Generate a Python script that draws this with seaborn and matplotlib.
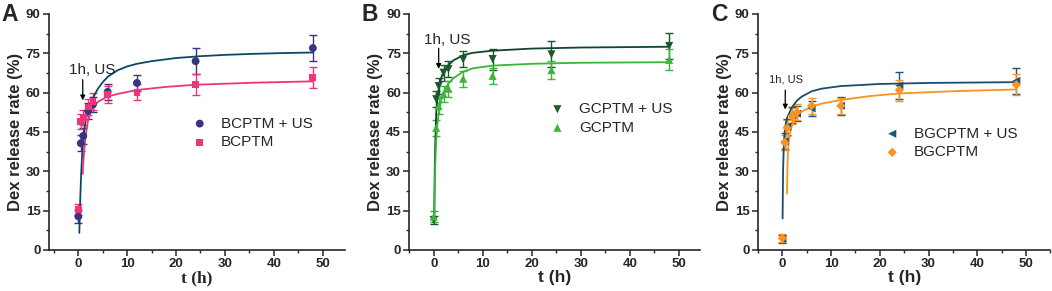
import matplotlib
matplotlib.use("Agg")
import matplotlib.pyplot as plt
import seaborn as sns
from matplotlib.ticker import MultipleLocator

# sampling times (h)
t = [0, 0.5, 1, 2, 3, 6, 12, 24, 48]

# panel A
bcptm_us = [12.8, 40.7, 43.5, 53.0, 55.5, 60.3, 63.7, 72.0, 77.0]
bcptm_us_err = [2.5, 3.0, 3.0, 3.0, 3.0, 3.0, 3.2, 5.0, 5.0]
bcptm = [15.5, 49.0, 50.5, 54.5, 56.5, 59.3, 60.2, 63.2, 65.8]
bcptm_err = [2.0, 3.0, 3.0, 3.0, 3.2, 3.2, 3.0, 4.0, 4.0]

fitA_us_t = [0.2, 0.4, 0.6, 0.8, 1.0, 1.3, 1.6, 2, 2.5, 3, 4, 5, 6, 8, 10, 12, 15, 20, 25, 30, 36, 42, 48]
fitA_us = [6.5, 20, 30, 37, 42, 47, 50.5, 53.5, 56, 58, 61.5, 64, 66, 68.5, 70, 71, 72, 73.2, 73.9, 74.4, 74.8, 75.1, 75.3]
fitA_t = [0.9, 1.0, 1.2, 1.6, 2, 2.5, 3, 4, 6, 8, 12, 18, 24, 36, 48]
fitA = [29, 33, 38, 45, 49.5, 52.5, 54.5, 56.5, 58.5, 59.5, 61, 62.2, 63, 63.8, 64.3]

# panel B
gcptm_us = [11.4, 57.5, 62.5, 67.6, 69.0, 72.7, 72.8, 74.6, 77.8]
gcptm_us_err = [1.5, 3.0, 3.0, 3.0, 3.0, 3.0, 4.0, 5.0, 5.0]
gcptm = [12.7, 46.6, 54.9, 59.5, 61.5, 65.3, 66.4, 68.6, 72.5]
gcptm_err = [2.0, 3.0, 3.0, 3.0, 3.0, 3.0, 3.0, 3.5, 4.0]

fitB_t = [0.1, 0.2, 0.3, 0.5, 0.75, 1, 1.5, 2, 3, 4, 6, 8, 12, 20, 30, 48]
fitB_us = [12, 30, 40, 52, 58, 61.5, 65.5, 68, 70.5, 72.3, 74.3, 75.2, 76, 76.8, 77.2, 77.5]
fitB = [12, 24, 32, 42, 48, 52, 57, 60, 63.5, 65.5, 68, 69.3, 70.3, 71, 71.4, 71.6]

# panel C
bgcptm_us = [4.2, 41.5, 47.0, 51.5, 52.0, 54.0, 55.0, 62.7, 64.5]
bgcptm_us_err = [1.5, 3.0, 3.0, 3.0, 3.0, 3.0, 3.5, 5.0, 5.0]
bgcptm = [4.5, 41.0, 46.5, 51.0, 52.5, 55.0, 55.0, 61.0, 63.0]
bgcptm_err = [1.5, 3.0, 3.0, 3.0, 3.0, 3.0, 3.0, 4.0, 4.0]

fitC_us_t = [0.05, 0.15, 0.3, 0.5, 0.75, 1, 1.5, 2, 3, 4, 6, 8, 12, 20, 30, 48]
fitC_us = [12, 30, 40, 45.5, 48.5, 50.5, 52.5, 54.5, 57, 58.5, 60.5, 61.5, 62.5, 63.3, 63.7, 64]
fitC_t = [0.95, 1.05, 1.2, 1.5, 2, 2.5, 3, 4, 6, 8, 12, 18, 24, 36, 48]
fitC = [21.5, 32, 39, 44, 47.5, 49.5, 51, 52.8, 54.7, 55.8, 57.2, 58.7, 59.7, 60.6, 61.2]

sns.set_style("ticks")
plt.rcParams['font.family'] = ['Liberation Sans', 'DejaVu Sans']

fig = plt.figure(figsize=(10.52, 2.91), dpi=100)


def panel(ax, series, fits, xlim, letter, ann, leg_anchor, serif_xlabel=False):
    for (y, err, color, marker, ms, label) in series:
        ax.errorbar(t, y, yerr=err, fmt='none', ecolor=color, elinewidth=1.0,
                    capsize=2.8, capthick=1.0, zorder=2)
    for (ft, fy, color) in fits:
        sns.lineplot(x=ft, y=fy, ax=ax, color=color, lw=1.3, zorder=3, sort=False)
    for (y, err, color, marker, ms, label) in series:
        sns.scatterplot(x=t, y=y, ax=ax, color=color, marker=marker, s=ms,
                        edgecolor='none', label=label, zorder=4)
    ax.set_xlim(*xlim)
    ax.set_ylim(0, 90)
    ax.xaxis.set_major_locator(MultipleLocator(10))
    ax.xaxis.set_minor_locator(MultipleLocator(5))
    ax.yaxis.set_major_locator(MultipleLocator(15))
    ax.yaxis.set_minor_locator(MultipleLocator(7.5))
    ax.tick_params(which='major', length=4, width=1.1, labelsize=9.5, pad=2)
    ax.tick_params(which='minor', length=2.5, width=1.0)
    for lab in ax.get_xticklabels() + ax.get_yticklabels():
        lab.set_fontweight('bold')
    for s in ['left', 'bottom']:
        ax.spines[s].set_linewidth(1.2)
    sns.despine(ax=ax)
    if serif_xlabel:
        ax.set_xlabel('t (h)', fontsize=12.5, fontweight='bold',
                      family='Liberation Serif', labelpad=0)
    else:
        ax.set_xlabel('t (h)', fontsize=12.5, fontweight='bold', labelpad=0)
    ax.set_ylabel('Dex release rate (%)', fontsize=12, fontweight='bold', labelpad=2)
    (tx, ty, ax0, ay0, ay1, fs) = ann
    ax.text(tx, ty, '1h, US', fontsize=fs, ha='center', va='center')
    ax.annotate('', xy=(ax0, ay1), xytext=(ax0, ay0),
                arrowprops=dict(arrowstyle='-|>', color='black', lw=0.9,
                                mutation_scale=7))
    ax.legend(frameon=False, loc='center left', bbox_to_anchor=leg_anchor,
              fontsize=11, handlelength=1.0, handletextpad=0.9,
              labelspacing=0.3, borderpad=0, borderaxespad=0)
    fig.text(ax.get_position().x0 - 0.045, 0.99, letter, fontsize=16.5,
             fontweight='bold', ha='left', va='top')


axA = fig.add_axes([0.0466, 0.141, 0.281, 0.811])
panel(axA,
      [(bcptm_us, bcptm_us_err, '#37357f', 'o', 32, 'BCPTM + US'),
       (bcptm, bcptm_err, '#f0337a', 's', 24, 'BCPTM')],
      [(fitA_us_t, fitA_us, '#0d4866'), (fitA_t, fitA, '#f0337a')],
      (-6, 54.5), 'A', (2.9, 68.5, 0.9, 66, 56, 11), (0.484, 0.496),
      serif_xlabel=True)

axB = fig.add_axes([0.389, 0.141, 0.276, 0.811])
panel(axB,
      [(gcptm_us, gcptm_us_err, '#1c5a2c', 'v', 34, 'GCPTM + US'),
       (gcptm, gcptm_err, '#3db43d', '^', 34, 'GCPTM')],
      [(fitB_t, fitB_us, '#0f472a'), (fitB_t, fitB, '#3ab43a')],
      (-5, 54.2), 'B', (2.7, 80, 1.0, 78, 68, 11), (0.484, 0.557))

axC = fig.add_axes([0.7205, 0.141, 0.278, 0.811])
panel(axC,
      [(bgcptm_us, bgcptm_us_err, '#1b5677', '<', 34, 'BGCPTM + US'),
       (bgcptm, bgcptm_err, '#f7931e', 'D', 22, 'BGCPTM')],
      [(fitC_us_t, fitC_us, '#174d70'), (fitC_t, fitC, '#f7931e')],
      (-5, 55), 'C', (0.8, 65, 0.6, 62, 52.5, 8), (0.433, 0.453))

fig.savefig('out.png', dpi=100)
